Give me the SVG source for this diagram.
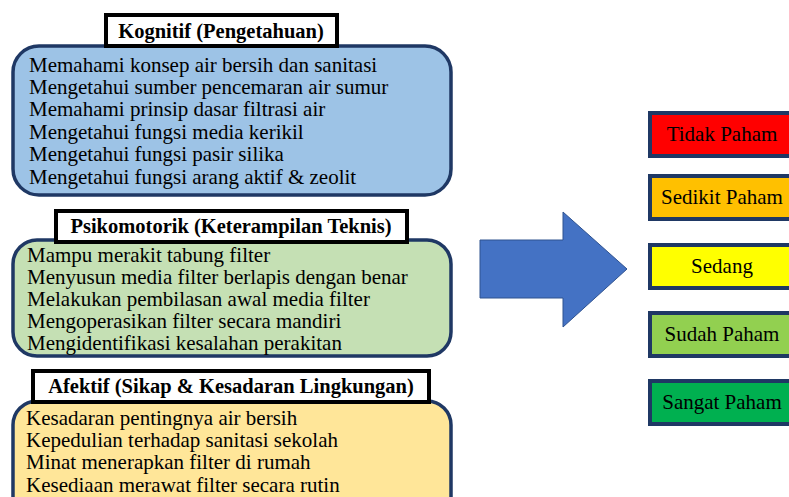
<svg xmlns="http://www.w3.org/2000/svg" width="789" height="497" viewBox="0 0 789 497">
<style>
.panel{stroke:#1F3864;stroke-width:3.5}
.hdr{fill:#fff;stroke:#000;stroke-width:4}
.ht{font-family:"Liberation Serif",serif;font-weight:bold;font-size:20.5px;fill:#000;text-anchor:middle}
.it{font-family:"Liberation Serif",serif;font-size:21px;fill:#000}
.lvl{stroke:#1F3864;stroke-width:4}
.lt{font-family:"Liberation Serif",serif;font-size:21px;fill:#000;text-anchor:middle}
</style>
<rect width="789" height="497" fill="#fff"/>
<g id="kognitif">
<rect class="panel" x="13" y="46" width="438" height="149" rx="26" fill="#9DC3E6"/>
<rect class="hdr" x="106" y="15" width="231" height="31"/>
<text class="ht" x="221" y="38">Kognitif (Pengetahuan)</text>
<text class="it" x="29" y="72">Memahami konsep air bersih dan sanitasi</text>
<text class="it" x="29" y="94">Mengetahui sumber pencemaran air sumur</text>
<text class="it" x="29" y="116">Memahami prinsip dasar filtrasi air</text>
<text class="it" x="29" y="139">Mengetahui fungsi media kerikil</text>
<text class="it" x="29" y="161">Mengetahui fungsi pasir silika</text>
<text class="it" x="29" y="184">Mengetahui fungsi arang aktif &amp; zeolit</text>
</g>
<g id="psikomotorik">
<rect class="panel" x="13" y="240" width="438" height="116" rx="24" fill="#C5E0B4"/>
<rect class="hdr" x="56" y="211" width="351" height="31"/>
<text class="ht" x="231" y="233">Psikomotorik (Keterampilan Teknis)</text>
<text class="it" x="27" y="262">Mampu merakit tabung filter</text>
<text class="it" x="27" y="284">Menyusun media filter berlapis dengan benar</text>
<text class="it" x="27" y="306">Melakukan pembilasan awal media filter</text>
<text class="it" x="27" y="328">Mengoperasikan filter secara mandiri</text>
<text class="it" x="27" y="350">Mengidentifikasi kesalahan perakitan</text>
</g>
<g id="afektif">
<rect class="panel" x="13" y="401" width="438" height="120" rx="24" fill="#FFE699"/>
<rect class="hdr" x="33" y="371" width="396" height="31"/>
<text class="ht" x="231" y="393">Afektif (Sikap &amp; Kesadaran Lingkungan)</text>
<text class="it" x="26" y="425">Kesadaran pentingnya air bersih</text>
<text class="it" x="26" y="447">Kepedulian terhadap sanitasi sekolah</text>
<text class="it" x="26" y="469">Minat menerapkan filter di rumah</text>
<text class="it" x="26" y="492">Kesediaan merawat filter secara rutin</text>
</g>
<g id="connectors">
<polygon points="480,240 563,240 563,212 627,269 563,327 563,298 480,298" fill="#4472C4" stroke="#2F528F" stroke-width="1"/>
</g>
<g id="tidak">
<rect class="lvl" x="650" y="113" width="146" height="43" fill="#FF0000"/>
<text class="lt" x="722" y="141">Tidak Paham</text>
</g>
<g id="sedikit">
<rect class="lvl" x="650" y="176" width="146" height="43" fill="#FFC000"/>
<text class="lt" x="722" y="204">Sedikit Paham</text>
</g>
<g id="sedang">
<rect class="lvl" x="650" y="245" width="146" height="43" fill="#FFFF00"/>
<text class="lt" x="722" y="273">Sedang</text>
</g>
<g id="sudah">
<rect class="lvl" x="650" y="313" width="146" height="43" fill="#92D050"/>
<text class="lt" x="722" y="341">Sudah Paham</text>
</g>
<g id="sangat">
<rect class="lvl" x="650" y="381" width="146" height="43" fill="#00B050"/>
<text class="lt" x="722" y="409">Sangat Paham</text>
</g>
</svg>
